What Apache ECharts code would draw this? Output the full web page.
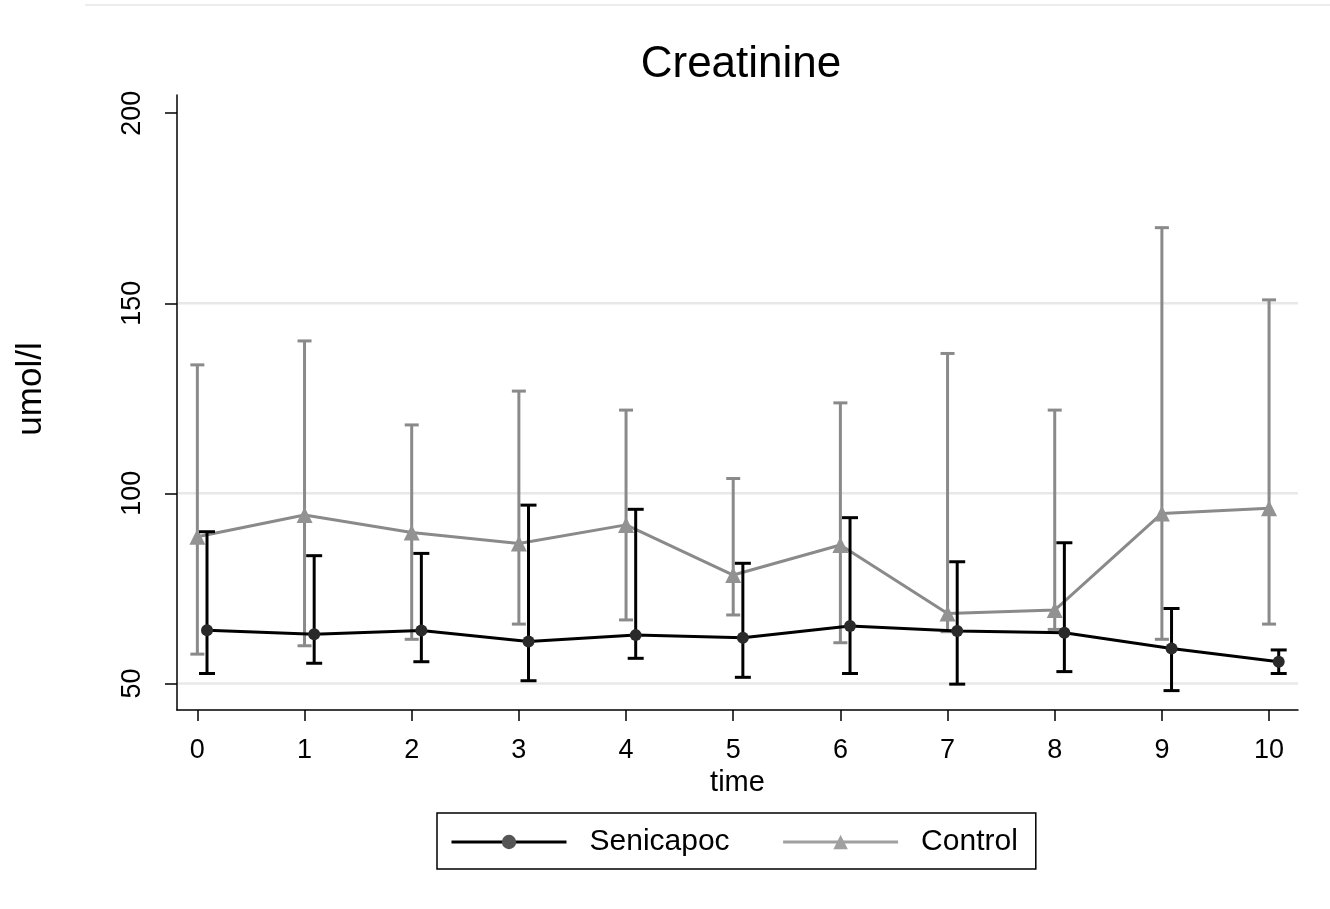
<!DOCTYPE html>
<html>
<head>
<meta charset="utf-8">
<script src="https://cdn.jsdelivr.net/npm/echarts@6/dist/echarts.min.js"></script>
<style>
html,body{margin:0;padding:0;background:#fff;}
#chart{width:1330px;height:909px;}
</style>
</head>
<body>
<div id="chart"></div>
<script>
// ---- data ----
const time = [0, 1, 2, 3, 4, 5, 6, 7, 8, 9, 10];
const senMean = [64.0, 62.9, 63.9, 61.0, 62.7, 62.0, 65.1, 63.8, 63.3, 59.2, 55.7];
const senLow  = [52.6, 55.3, 55.7, 50.7, 56.6, 51.6, 52.6, 49.8, 53.1, 48.1, 52.6];
const senHigh = [89.9, 83.6, 84.2, 96.9, 95.8, 81.6, 93.6, 82.0, 87.0, 69.7, 58.8];
const ctlMean = [88.6, 94.3, 89.7, 86.8, 91.7, 78.5, 86.4, 68.4, 69.3, 94.7, 96.1];
const ctlLow  = [57.7, 59.9, 61.6, 65.6, 66.7, 68.0, 60.7, 63.6, 64.2, 61.6, 65.6];
const ctlHigh = [133.8, 140.1, 118.0, 126.9, 121.9, 103.9, 123.8, 136.8, 121.9, 169.9, 150.9];
const xTicks = [0, 1, 2, 3, 4, 5, 6, 7, 8, 9, 10];
const yTicks = [50, 100, 150, 200];
const yGrid = [50, 100, 150];
const seriesNames = ['Senicapoc', 'Control'];

// ---- layout / style ----
const SEN_OFFSET = 0.09;
const FONT = '"Liberation Sans", Arial, sans-serif';
const BLACK = '#000000';
const GRAY = '#8a8a8a';

const senPts = time.map((t, i) => [t + SEN_OFFSET, senMean[i]]);
const ctlPts = time.map((t, i) => [t, ctlMean[i]]);
const senErr = time.map((t, i) => [t + SEN_OFFSET, senLow[i], senHigh[i]]);
const ctlErr = time.map((t, i) => [t, ctlLow[i], ctlHigh[i]]);

function errRender(color, capHalf, width) {
  return function (params, api) {
    const x = api.value(0), lo = api.value(1), hi = api.value(2);
    const pLo = api.coord([x, lo]);
    const pHi = api.coord([x, hi]);
    const style = { stroke: color, lineWidth: width };
    return {
      type: 'group',
      children: [
        { type: 'line', shape: { x1: pLo[0], y1: pLo[1], x2: pHi[0], y2: pHi[1] }, style },
        { type: 'line', shape: { x1: pLo[0] - capHalf, y1: pLo[1], x2: pLo[0] + capHalf, y2: pLo[1] }, style },
        { type: 'line', shape: { x1: pHi[0] - capHalf, y1: pHi[1], x2: pHi[0] + capHalf, y2: pHi[1] }, style }
      ]
    };
  };
}

const chart = echarts.init(document.getElementById('chart'), null, { renderer: 'canvas' });
chart.setOption({
  backgroundColor: '#ffffff',
  animation: false,
  textStyle: { fontFamily: FONT },
  title: {
    text: 'Creatinine',
    left: 736, top: 38, textAlign: 'center',
    textStyle: { fontFamily: FONT, fontSize: 44, fontWeight: 'normal', color: '#000' }
  },
  graphic: [
    { type: 'line', shape: { x1: 85, y1: 5, x2: 1330, y2: 5 }, style: { stroke: '#ececec', lineWidth: 2 } },
    { type: 'text', x: 31, y: 389, rotation: Math.PI / 2,
      style: { text: 'umol/l', fontFamily: FONT, fontSize: 35, fill: '#000', align: 'center', verticalAlign: 'middle' } }
  ],
  legend: {
    left: 437, top: 813,
    padding: [14, 18, 12, 13],
    borderColor: '#000', borderWidth: 1.5,
    itemWidth: 115, itemHeight: 18, itemGap: 52,
    textStyle: { fontFamily: FONT, fontSize: 30, color: '#000', padding: [0, 0, 0, 18] },
    data: [
      { name: seriesNames[0], itemStyle: { color: '#555' }, lineStyle: { color: BLACK, width: 3 } },
      { name: seriesNames[1], itemStyle: { color: '#a0a0a0' }, lineStyle: { color: '#a0a0a0', width: 3 } }
    ]
  },
  grid: { left: 177, right: 32, top: 95, bottom: 199, containLabel: false },
  xAxis: {
    type: 'value', min: -0.19, max: 10.27,
    name: 'time', nameLocation: 'middle', nameGap: 53,
    nameTextStyle: { fontFamily: FONT, fontSize: 29, color: '#000' },
    axisLine: { show: true, onZero: false, lineStyle: { color: '#000', width: 1.5 } },
    axisTick: { show: true, customValues: xTicks, length: 11, lineStyle: { color: '#000', width: 1.5 } },
    axisLabel: { customValues: xTicks, margin: 27, fontFamily: FONT, fontSize: 27, color: '#000' },
    splitLine: { show: false }
  },
  yAxis: {
    type: 'value', min: 43, max: 204.8,
    axisLine: { show: true, onZero: false, lineStyle: { color: '#000', width: 1.5 } },
    axisTick: { show: true, customValues: yTicks, length: 12, lineStyle: { color: '#000', width: 1.5 } },
    axisLabel: { customValues: yTicks, rotate: 90, margin: 31, fontFamily: FONT, fontSize: 27, color: '#000' },
    splitLine: { show: false }
  },
  series: [
    {
      type: 'custom', name: 'grid', silent: true, z: 0,
      data: yGrid,
      renderItem: function (params, api) {
        const cs = params.coordSys;
        const y = api.coord([0, api.value(0)])[1];
        return { type: 'line', shape: { x1: cs.x + 1, y1: y, x2: cs.x + cs.width, y2: y },
          style: { stroke: '#e8e8e8', lineWidth: 2.5 } };
      },
      encode: { y: 0 }
    },
    {
      type: 'custom', name: 'ctlErr', silent: true, z: 2,
      data: ctlErr, encode: { x: 0, y: [1, 2] },
      renderItem: errRender(GRAY, 7, 3)
    },
    {
      type: 'line', name: seriesNames[1], z: 3,
      data: ctlPts, symbol: 'triangle', symbolSize: 16,
      lineStyle: { color: GRAY, width: 3 },
      itemStyle: { color: '#929292' },
      showAllSymbol: true
    },
    {
      type: 'custom', name: 'senErr', silent: true, z: 4,
      data: senErr, encode: { x: 0, y: [1, 2] },
      renderItem: errRender(BLACK, 8, 3)
    },
    {
      type: 'line', name: seriesNames[0], z: 5,
      data: senPts, symbol: 'circle', symbolSize: 12,
      lineStyle: { color: BLACK, width: 3 },
      itemStyle: { color: '#2a2a2a' },
      showAllSymbol: true
    }
  ]
});
</script>
</body>
</html>
